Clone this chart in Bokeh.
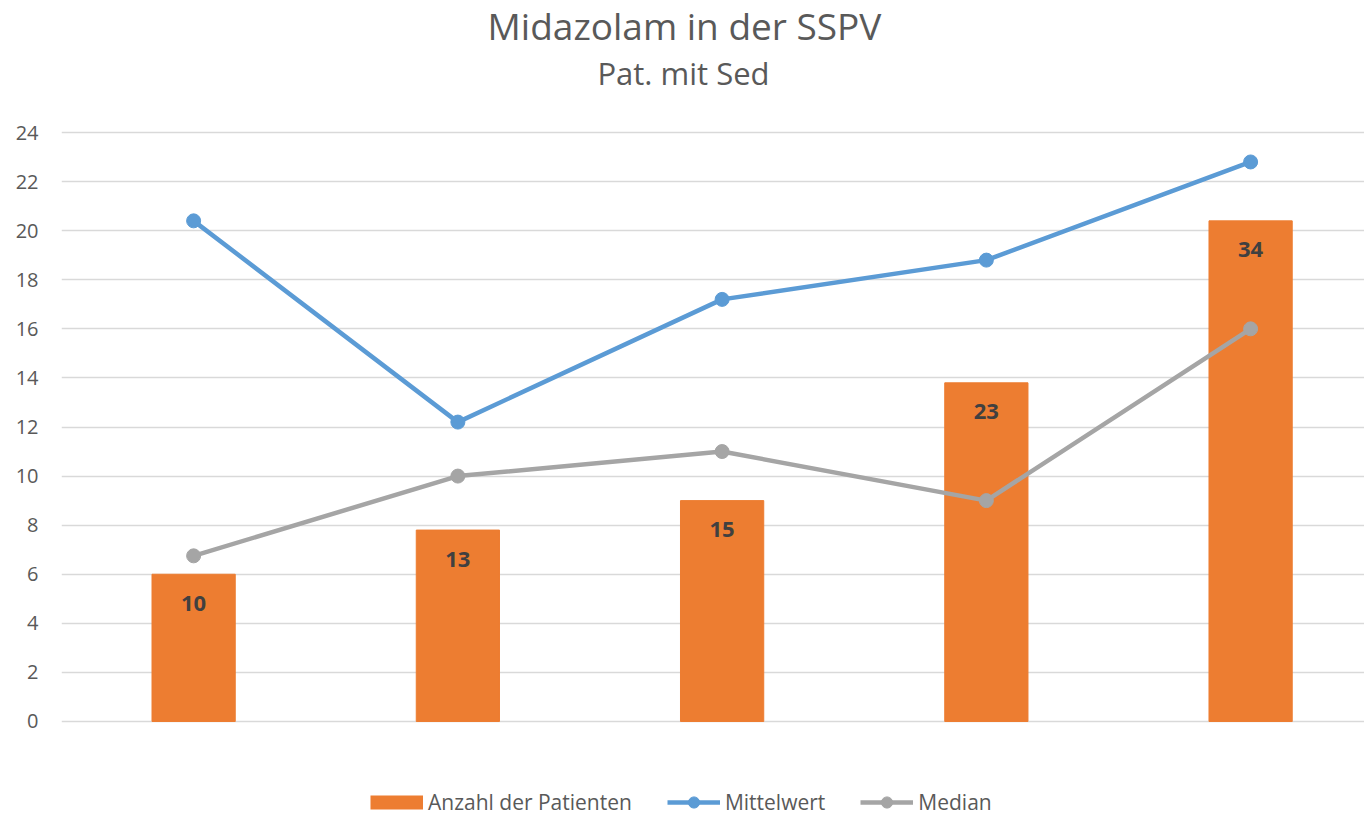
from bokeh.plotting import figure
from bokeh.models import Range1d, Legend, LegendItem, Label, ColumnDataSource
from bokeh.core.properties import value
from bokeh.embed import file_html
from bokeh.resources import INLINE

# ---- data ----
categories = [1, 2, 3, 4, 5]
patienten = [10, 13, 15, 23, 34]
mittelwert = [20.4, 12.2, 17.2, 18.8, 22.8]
median = [6.75, 10, 11, 9, 16]
y_ticks = list(range(0, 26, 2))
title_text = "Midazolam in der SSPV"
subtitle_text = "Pat. mit Sed"

FONT = "Open Sans"
TXT = "#595959"
ORANGE = "#ED7D31"
BLUE = "#5B9BD5"
GRAY = "#A5A5A5"

# frame spans the whole canvas height; space below 0 holds the legend, above 24 the titles
Y_LOW, Y_HIGH = -3.912, 29.379
p = figure(width=1364, height=817, output_backend="svg", toolbar_location=None,
           x_range=Range1d(0.5, 5.431), y_range=Range1d(Y_LOW, Y_HIGH),
           min_border_left=61, min_border_right=0, min_border_bottom=0, min_border_top=0)
p.extra_y_ranges = {"count": Range1d(Y_LOW * 40 / 24, Y_HIGH * 40 / 24)}

src = ColumnDataSource(dict(x=categories, n=patienten, m=mittelwert, md=median,
                            lab=[str(v) for v in patienten]))

bars = p.vbar(x="x", top="n", bottom=0, width=0.315, color=ORANGE, source=src, y_range_name="count")
p.text(x="x", y="n", text="lab", source=src, y_range_name="count",
       text_align="center", text_baseline="middle", y_offset=29,
       text_font=value(FONT), text_font_style="bold", text_font_size="22px", text_color="#404040")

l1 = p.line("x", "m", source=src, line_color=BLUE, line_width=4.5)
s1 = p.scatter("x", "m", source=src, size=14, color=BLUE)
l2 = p.line("x", "md", source=src, line_color=GRAY, line_width=4.5)
s2 = p.scatter("x", "md", source=src, size=14, color=GRAY)
# legend swatch for the bars: a one-point line (draws nothing in the plot)
bar_swatch = p.line(x=categories[:1], y=[0], line_color=ORANGE, line_width=14, line_cap="butt")

p.xaxis.visible = False
p.xgrid.visible = False
p.outline_line_color = None
ya = p.yaxis[0]
ya.ticker = y_ticks
ya.axis_line_color = None
ya.major_tick_line_color = None
ya.minor_tick_line_color = None
ya.major_tick_out = 0
ya.major_label_standoff = 23
ya.major_label_text_font = FONT
ya.major_label_text_font_size = "20px"
ya.major_label_text_color = TXT
p.ygrid.grid_line_color = "#D9D9D9"
p.ygrid.grid_line_width = 1.5

legend = Legend(items=[
    LegendItem(label="Anzahl der Patienten", renderers=[bar_swatch]),
    LegendItem(label="Mittelwert", renderers=[l1, s1]),
    LegendItem(label="Median", renderers=[l2, s2]),
], orientation="horizontal", location=(309, 1), padding=0, margin=0,
   border_line_color=None, background_fill_alpha=0, glyph_width=53, glyph_height=28,
   label_standoff=5, spacing=35, label_text_font=FONT, label_text_font_size="21px",
   label_text_color=TXT, label_height=28)
p.add_layout(legend, "center")

p.add_layout(Label(x=623, y=792, x_units="screen", y_units="screen", text=title_text,
                   text_align="center", text_baseline="alphabetic",
                   text_font=FONT, text_font_size="37px", text_color=TXT))
p.add_layout(Label(x=622, y=745, x_units="screen", y_units="screen", text=subtitle_text,
                   text_align="center", text_baseline="alphabetic",
                   text_font=FONT, text_font_size="31px", text_color=TXT))

open("out.html", "w").write(file_html(p, INLINE))
